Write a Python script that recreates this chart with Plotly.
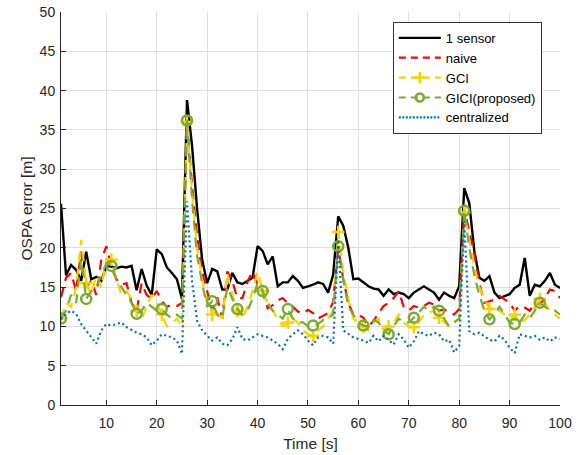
import plotly.graph_objects as go

time_s = list(range(1, 101))

one_sensor = [
    25.6, 16.5, 17.8, 17.2, 15.8, 19.5, 16.0, 16.3, 15.8, 17.7,
    17.6, 17.4, 17.6, 17.5, 17.7, 14.6, 17.3, 15.2, 14.0, 19.8,
    19.2, 17.5, 16.8, 16.0, 13.5, 38.8, 33.0, 25.0, 18.5, 15.5,
    17.3, 17.0, 14.7, 14.7, 16.8, 15.6, 15.4, 15.8, 16.2, 20.2,
    19.6, 17.9, 18.9, 15.1, 15.6, 15.6, 16.4, 15.8, 14.9, 15.1,
    15.3, 15.6, 15.4, 14.3, 16.6, 24.0, 22.8, 20.0, 16.0, 16.1,
    15.6, 15.1, 14.8, 14.7, 13.9, 14.7, 14.1, 14.3, 14.1, 13.6,
    14.3, 14.7, 15.1, 14.7, 14.3, 13.4, 14.3, 13.9, 13.6, 15.1,
    27.6, 25.7, 19.6, 16.2, 15.8, 16.4, 14.3, 13.6, 13.9, 14.1,
    14.9, 15.3, 18.7, 13.9, 15.3, 15.1, 15.8, 16.8, 15.3, 14.9]

naive = [
    13.7, 16.2, 16.8, 14.5, 19.5, 15.0, 15.8, 14.0, 18.5, 20.2,
    17.5, 16.0, 15.3, 15.5, 13.0, 12.0, 15.5, 14.0, 13.5, 14.5,
    13.2, 12.5, 12.8, 12.6, 13.0, 36.0, 28.0, 21.5, 17.0, 14.5,
    12.0, 13.7, 11.0, 17.0, 15.7, 13.6, 13.6, 15.7, 17.0, 15.3,
    14.4, 12.3, 12.7, 13.3, 13.6, 12.9, 12.5, 11.9, 11.6, 12.1,
    11.7, 11.0, 11.4, 11.7, 13.1, 20.0, 16.0, 13.0, 11.5, 11.5,
    11.1, 10.0, 10.7, 11.7, 12.6, 13.0, 13.6, 14.5, 12.5, 12.0,
    12.6, 12.4, 12.6, 13.0, 12.8, 12.0, 12.2, 11.7, 11.5, 12.2,
    24.9, 22.1, 19.2, 15.5, 13.0, 13.2, 13.4, 13.9, 13.4, 13.0,
    12.0, 12.6, 12.4, 12.0, 13.0, 12.8, 13.6, 14.7, 14.5, 13.6]

gci = [
    11.0, 13.0, 12.5, 15.0, 21.0, 15.5, 14.0, 16.5, 15.0, 18.5,
    18.5, 16.0, 14.0, 14.5, 13.5, 12.0, 11.0, 12.5, 14.0, 13.0,
    11.5, 10.0, 10.5, 11.0, 10.0, 36.0, 27.0, 20.0, 16.0, 13.0,
    11.5, 12.0, 11.0, 16.8, 14.0, 12.0, 11.0, 12.5, 14.5, 17.0,
    14.5, 13.0, 12.0, 11.0, 10.0, 10.5, 11.0, 10.5, 9.5, 9.0,
    8.8, 9.5, 10.0, 11.0, 12.0, 22.0, 17.0, 13.5, 11.0, 10.5,
    10.0, 9.5, 10.5, 11.0, 9.5, 10.0, 10.5, 11.5, 10.5, 10.0,
    9.9, 10.5, 11.5, 11.8, 12.0, 11.1, 10.5, 10.0, 10.5, 11.0,
    24.5, 21.0, 17.5, 15.0, 13.5, 12.2, 12.5, 12.0, 11.5, 11.0,
    11.5, 10.5, 10.8, 11.5, 12.5, 13.5, 13.0, 12.0, 11.5, 11.0]

gici = [
    11.0, 12.0, 14.0, 13.0, 18.5, 13.5, 14.5, 15.0, 16.5, 18.0,
    17.7, 16.0, 15.0, 14.0, 13.0, 11.6, 12.0, 13.0, 12.5, 12.0,
    12.2, 11.5, 11.0, 11.5, 11.0, 36.2, 26.0, 19.0, 15.5, 12.5,
    13.2, 11.5, 11.0, 15.0, 13.5, 12.2, 11.5, 12.0, 13.5, 15.5,
    14.5, 13.0, 12.0, 11.5, 11.0, 12.2, 11.0, 10.5, 10.5, 10.0,
    10.1, 10.3, 10.8, 11.0, 11.5, 20.2, 16.0, 12.5, 11.5, 10.5,
    10.1, 10.0, 10.8, 10.5, 9.5, 9.0, 10.0, 11.0, 10.5, 10.5,
    11.1, 11.8, 12.5, 12.0, 12.5, 12.0, 11.0, 10.0, 10.5, 11.0,
    24.7, 20.0, 16.5, 14.0, 12.0, 10.9, 11.5, 12.5, 11.5, 10.5,
    10.3, 10.5, 11.5, 11.0, 12.0, 13.0, 12.5, 12.0, 12.0, 11.5]

centralized = [
    10.9, 11.6, 12.0, 11.6, 10.3, 9.5, 8.6, 7.8, 9.5, 10.3,
    10.1, 10.3, 10.5, 9.9, 9.5, 9.2, 9.0, 8.6, 7.6, 8.2,
    9.0, 8.8, 8.6, 8.2, 6.5, 25.9, 15.8, 10.7, 9.5, 8.8,
    8.2, 8.6, 7.8, 7.6, 8.4, 9.9, 8.4, 8.2, 8.6, 9.0,
    8.8, 8.6, 8.2, 7.8, 7.1, 8.4, 9.0, 9.5, 9.0, 8.2,
    7.6, 8.6, 8.8, 8.6, 7.8, 21.0, 9.5, 9.0, 8.6, 8.4,
    8.2, 7.9, 8.8, 8.1, 8.8, 8.3, 7.7, 9.0, 8.3, 7.3,
    8.1, 9.4, 9.0, 8.8, 9.2, 9.0, 8.1, 8.3, 6.7, 7.5,
    23.4, 9.4, 9.0, 9.2, 8.8, 8.3, 8.1, 8.8, 8.3, 7.3,
    6.6, 9.0, 8.8, 8.6, 8.8, 8.3, 8.6, 8.1, 8.6, 8.4]

series_names = ["1 sensor", "naive", "GCI", "GICI(proposed)", "centralized"]
marker_step = 5

C_BLACK = "#000000"
C_RED = "#ff0000"
C_YEL = "#fad200"
C_GRN = "#77ac30"
C_BLU = "#0072bd"

fig = go.Figure()

def line_trace(y, name, color, dash, width=2.2):
    return go.Scatter(x=time_s, y=y, mode="lines", name=name, showlegend=False,
                      line=dict(color=color, width=width, dash=dash))

fig.add_trace(line_trace(one_sensor, series_names[0], C_BLACK, "solid", 2.4))
fig.add_trace(line_trace(naive, series_names[1], C_RED, "10px,7px"))
fig.add_trace(line_trace(gci, series_names[2], C_YEL, "10px,7px"))
fig.add_trace(go.Scatter(x=time_s[::marker_step], y=gci[::marker_step], mode="markers",
                         showlegend=False,
                         marker=dict(symbol="cross-thin-open", size=9, color=C_YEL,
                                     line=dict(color=C_YEL, width=2.5))))
fig.add_trace(line_trace(gici, series_names[3], C_GRN, "10px,7px"))
fig.add_trace(go.Scatter(x=time_s[::marker_step], y=gici[::marker_step], mode="markers",
                         showlegend=False,
                         marker=dict(symbol="circle-open", size=10, color=C_GRN,
                                     line=dict(color=C_GRN, width=2.5))))
fig.add_trace(line_trace(centralized, series_names[4], C_BLU, "2px,3px"))

# legend entries
legend_styles = [
    (C_BLACK, "solid", None),
    (C_RED, "7px,5px", None),
    (C_YEL, "7px,5px", "cross-thin-open"),
    (C_GRN, "7px,5px", "circle-open"),
    (C_BLU, "2px,1.5px", None),
]
for name, (col, dash, sym) in zip(series_names, legend_styles):
    if sym:
        fig.add_trace(go.Scatter(x=[None], y=[None], mode="lines+markers", name=name,
                                 line=dict(color=col, width=2.2, dash=dash),
                                 marker=dict(symbol=sym, size=8, color=col,
                                             line=dict(color=col, width=2.5))))
    else:
        fig.add_trace(go.Scatter(x=[None], y=[None], mode="lines", name=name,
                                 line=dict(color=col, width=2.2, dash=dash)))

axis_font = dict(family="Liberation Sans, Arial, sans-serif", size=14, color="#262626")

fig.update_layout(
    width=583, height=455,
    margin=dict(l=61, r=23, t=12, b=50),
    paper_bgcolor="white", plot_bgcolor="white",
    font=axis_font,
    showlegend=True,
    legend=dict(x=0.665, y=0.975, xanchor="left", yanchor="top",
                bgcolor="white", bordercolor="#333333", borderwidth=1,
                font=dict(family="Liberation Sans, Arial, sans-serif", size=13, color="#000000"),
                itemwidth=42, tracegroupgap=0),
    xaxis=dict(range=[1, 100], tickmode="array", tickvals=list(range(10, 101, 10)),
               ticks="inside", ticklen=5, tickcolor="#262626",
               showline=True, linecolor="#262626", linewidth=1,
               showgrid=True, gridcolor="#dfdfdf", gridwidth=1, zeroline=False,
               tickfont=axis_font, ticklabelstandoff=5,
               title=dict(text="Time [s]", font=dict(size=15.5, color="#262626"), standoff=8),
               automargin=False),
    yaxis=dict(range=[0, 50], tickmode="array", tickvals=list(range(0, 51, 5)),
               ticks="inside", ticklen=5, tickcolor="#262626",
               showline=True, linecolor="#262626", linewidth=1,
               showgrid=True, gridcolor="#dfdfdf", gridwidth=1, zeroline=False,
               tickfont=axis_font, ticklabelstandoff=2,
               title=dict(text="OSPA error [m]", font=dict(size=15.5, color="#262626"), standoff=3),
               automargin=False),
)

# remove the page's default 8px body margin so the figure fills the window exactly
fig.write_html("out.html", config={"displayModeBar": False},
               post_script="document.body.style.margin='0';")
